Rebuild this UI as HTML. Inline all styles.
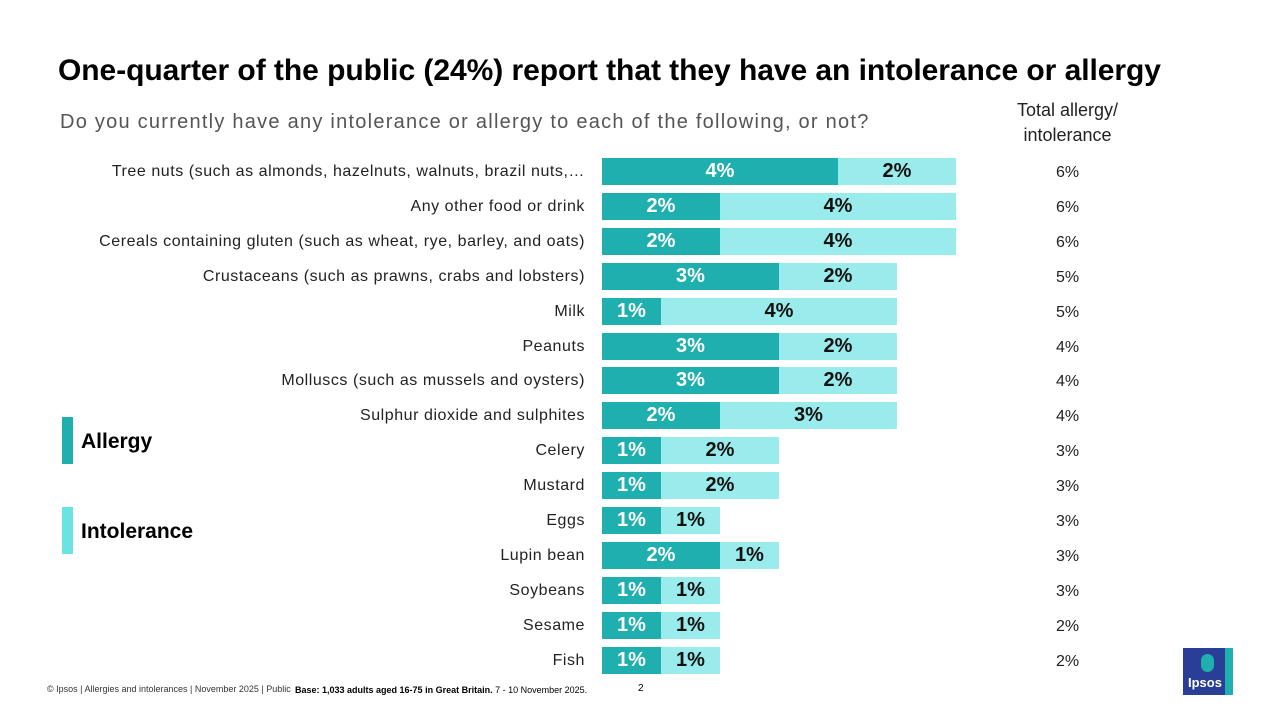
<!DOCTYPE html><html><head><meta charset="utf-8"><style>
body{margin:0;width:1280px;height:720px;background:#fff;font-family:"Liberation Sans",sans-serif;position:relative;overflow:hidden}
.a{position:absolute;white-space:nowrap}
.lab{right:695px;font-size:16px;color:#222;text-align:right;letter-spacing:0.55px}
.bar{position:absolute;height:27px;display:flex;align-items:center;justify-content:center;font-weight:bold;font-size:20px}
.al{background:#1fafae;color:#fff}.in{background:#9aecec;color:#111}
.tot{left:1056px;font-size:16px;color:#222}
</style></head><body>
<div class="a" style="left:58px;top:54px;font-size:30px;font-weight:bold;color:#000;letter-spacing:-0.05px">One-quarter of the public (24%) report that they have an intolerance or allergy</div>
<div class="a" style="left:60px;top:111px;font-size:20px;color:#555;letter-spacing:1.25px">Do you currently have any intolerance or allergy to each of the following, or not?</div>
<div class="a" style="left:1000px;top:98px;font-size:18px;color:#222;text-align:center;width:135px;line-height:25px;white-space:normal">Total allergy/ intolerance</div>
<div class="a" style="left:62px;top:417px;width:11px;height:47px;background:#1fafae"></div>
<div class="a" style="left:81px;top:430px;font-size:21px;font-weight:bold">Allergy</div>
<div class="a" style="left:62px;top:507px;width:11px;height:47px;background:#6be3e3"></div>
<div class="a" style="left:81px;top:520px;font-size:21px;font-weight:bold">Intolerance</div>
<div id="rows"></div>
<div class="a" style="left:47px;top:684px;font-size:9px;color:#333">© Ipsos | Allergies and intolerances | November 2025 | Public</div>
<div class="a" style="left:295px;top:685px;font-size:9px;color:#000"><b>Base: 1,033 adults aged 16-75 in Great Britain.</b> 7 - 10 November 2025.</div>
<div class="a" style="left:638px;top:683px;font-size:10px">2</div>
<div class="a" style="left:1183px;top:648px;width:50px;height:47px;background:#2b3e97"><div style="position:absolute;right:0;top:0;width:8px;height:47px;background:#1fafae"></div><div style="position:absolute;left:5px;top:27px;color:#fff;font-size:13px;font-weight:bold">Ipsos</div><div style="position:absolute;left:18px;top:6px;width:13px;height:18px;border-radius:7px;background:#1fafae"></div></div>
<script>
var d=[["Tree nuts (such as almonds, hazelnuts, walnuts, brazil nuts,…",4,2,6],["Any other food or drink",2,4,6],["Cereals containing gluten (such as wheat, rye, barley, and oats)",2,4,6],["Crustaceans (such as prawns, crabs and lobsters)",3,2,5],["Milk",1,4,5],["Peanuts",3,2,4],["Molluscs (such as mussels and oysters)",3,2,4],["Sulphur dioxide and sulphites",2,3,4],["Celery",1,2,3],["Mustard",1,2,3],["Eggs",1,1,3],["Lupin bean",2,1,3],["Soybeans",1,1,3],["Sesame",1,1,2],["Fish",1,1,2]];
var h="",u=59;
d.forEach(function(r,i){var t=158+i*34.9;
h+='<div class="a lab" style="top:'+(t+5)+'px">'+r[0]+'</div>';
h+='<div class="bar al" style="left:602px;top:'+t+'px;width:'+(r[1]*u)+'px">'+r[1]+'%</div>';
h+='<div class="bar in" style="left:'+(602+r[1]*u)+'px;top:'+t+'px;width:'+(r[2]*u)+'px">'+r[2]+'%</div>';
h+='<div class="a tot" style="top:'+(t+6)+'px">'+r[3]+'%</div>';});
document.getElementById("rows").innerHTML=h;
</script>
</body></html>
